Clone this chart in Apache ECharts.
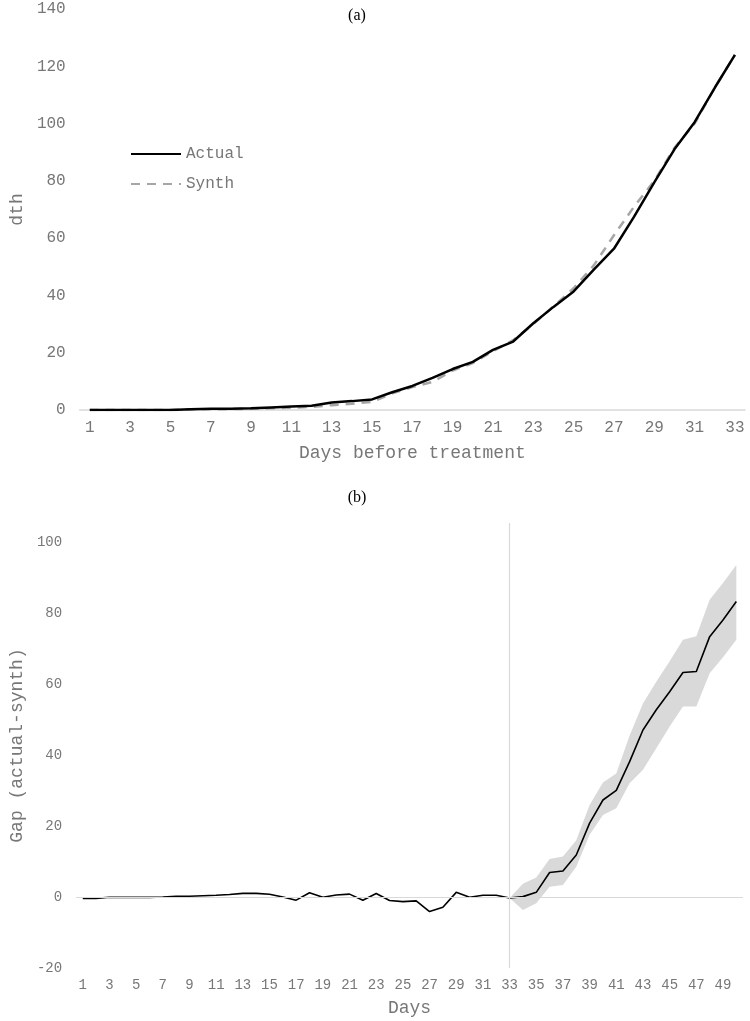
<!DOCTYPE html>
<html>
<head>
<meta charset="utf-8">
<script src="https://cdn.jsdelivr.net/npm/echarts@6/dist/echarts.min.js"></script>
<style>
  html, body { margin: 0; padding: 0; background: #fff; }
  #chart { width: 750px; height: 1021px; }
</style>
</head>
<body>
<div id="chart"></div>
<script>
  // (a) days before treatment
  const daysBefore = ["1","2","3","4","5","6","7","8","9","10","11","12","13","14","15","16","17",
    "18","19","20","21","22","23","24","25","26","27","28","29","30","31","32","33"];
  const actual = [0, 0, 0, 0, 0, 0.3, 0.4, 0.4, 0.6, 0.9, 1.2, 1.5, 2.6, 3.1, 3.7, 6.2, 8.4,
    11.2, 14.3, 16.8, 21, 23.9, 30.3, 36, 41.4, 49, 56.3, 67.5, 79.5, 91, 100.5, 112.5, 124];
  const synth = [0, 0, 0, 0, 0, 0.2, 0.3, 0.3, 0.4, 0.6, 0.8, 1.1, 1.7, 2.2, 2.8, 5.8, 8,
    9.8, 13.8, 16.4, 20.5, 24.4, 30, 36.2, 42.5, 50.5, 61, 71, 80, 91.5, 100, 112.5, 124];

  // (b) gap over all days
  const days = ["1","2","3","4","5","6","7","8","9","10","11","12","13","14","15","16","17",
    "18","19","20","21","22","23","24","25","26","27","28","29","30","31","32","33","34",
    "35","36","37","38","39","40","41","42","43","44","45","46","47","48","49","50"];
  const gap = [-0.4, -0.4, -0.1, -0.1, -0.1, -0.1, 0, 0.2, 0.2, 0.35, 0.5, 0.7, 1.0, 1.0, 0.75, 0, -0.9,
    1.2, -0.1, 0.55, 0.8, -0.9, 1.0, -1.0, -1.3, -1.1, -4.1, -2.9, 1.3, -0.1, 0.5, 0.5, -0.3, 0.1,
    1.3, 6.9, 7.3, 11.8, 20.8, 27.3, 30, 38.1, 47, 52.7, 57.8, 63.2, 63.5, 73.3, 78, 83.2];
  // confidence band, days 33..50
  const bandLower = [-0.3, -3.7, -1.8, 2.9, 3.4, 8.5, 17.5, 23.1, 25, 32, 35.8, 41.9, 48, 53.6, 53.6, 63, 67.5, 72.4];
  const bandUpper = [-0.3, 3.7, 5.5, 10.7, 11.4, 16, 25.9, 32.2, 34.8, 45.5, 54.5, 60.6, 66.4, 72.4, 73.4, 83.7, 88.4, 93.5];
  const treatmentDay = "33";

  const pad = new Array(32).fill("-");
  const lowerData = pad.concat(bandLower);
  const widthData = pad.concat(bandUpper.map((u, i) => +(u - bandLower[i]).toFixed(2)));

  const mono = "Liberation Mono";
  const grayText = "#777777";
  const lightLine = "#d9d9d9";

  const chart = echarts.init(document.getElementById("chart"));

  const option = {
    animation: false,
    backgroundColor: "#fff",
    title: [
      { text: "(a)", left: 352, top: 3, textAlign: "center",
        textStyle: { fontFamily: "Liberation Serif", fontSize: 16, fontWeight: "normal", color: "#000" } },
      { text: "(b)", left: 352, top: 485, textAlign: "center",
        textStyle: { fontFamily: "Liberation Serif", fontSize: 16, fontWeight: "normal", color: "#000" } }
    ],
    legend: {
      data: ["Actual", "Synth"],
      orient: "vertical",
      left: 130,
      top: 146,
      padding: 0,
      itemWidth: 50,
      itemHeight: 14,
      itemGap: 14,
      itemStyle: { opacity: 0 },
      textStyle: { fontFamily: mono, fontSize: 16, color: grayText }
    },
    grid: [
      { left: 71, right: 5, top: 9, bottom: 611 },
      // top extends a little above 100 so the treatment line overshoots like the original
      { left: 68, right: 7, top: 523, bottom: 53 }
    ],
    xAxis: [
      {
        gridIndex: 0, type: "category", data: daysBefore,
        name: "Days before treatment", nameLocation: "middle", nameGap: 34,
        nameTextStyle: { fontFamily: mono, fontSize: 18, color: grayText },
        axisLine: { lineStyle: { color: lightLine, width: 1.5 } },
        axisTick: { show: false },
        axisLabel: { interval: 1, margin: 10, fontFamily: mono, fontSize: 16, color: grayText }
      },
      {
        gridIndex: 1, type: "category", data: days,
        name: "Days", nameLocation: "middle", nameGap: 31,
        nameTextStyle: { fontFamily: mono, fontSize: 18, color: grayText },
        axisLine: { show: false, onZero: false },
        axisTick: { show: false },
        axisLabel: { interval: 1, margin: 10, fontFamily: mono, fontSize: 14, color: grayText }
      }
    ],
    yAxis: [
      {
        gridIndex: 0, type: "value", min: 0, max: 140, interval: 20,
        name: "dth", nameLocation: "middle", nameGap: 50,
        nameTextStyle: { fontFamily: mono, fontSize: 18, color: grayText },
        axisLine: { show: false }, axisTick: { show: false }, splitLine: { show: false },
        axisLabel: { margin: 14, fontFamily: mono, fontSize: 16, color: grayText }
      },
      {
        gridIndex: 1, type: "value", min: -20, max: 105.3, interval: 20,
        name: "Gap (actual-synth)", nameLocation: "middle", nameGap: 44,
        nameTextStyle: { fontFamily: mono, fontSize: 18, color: grayText },
        axisLine: { show: false }, axisTick: { show: false }, splitLine: { show: false },
        axisLabel: { margin: 14, showMaxLabel: false, fontFamily: mono, fontSize: 14, color: grayText }
      }
    ],
    series: [
      {
        name: "Synth", type: "line", xAxisIndex: 0, yAxisIndex: 0, data: synth,
        symbol: "none", z: 2,
        lineStyle: { color: "#a6a6a6", width: 2.5, type: [9, 7] },
        itemStyle: { color: "#a6a6a6" }
      },
      {
        name: "Actual", type: "line", xAxisIndex: 0, yAxisIndex: 0, data: actual,
        symbol: "none", z: 3,
        lineStyle: { color: "#000", width: 2.5 },
        itemStyle: { color: "#000" }
      },
      {
        name: "lower", type: "line", xAxisIndex: 1, yAxisIndex: 1, data: lowerData,
        stack: "band", stackStrategy: "all", symbol: "none", silent: true,
        lineStyle: { opacity: 0 }
      },
      {
        name: "band", type: "line", xAxisIndex: 1, yAxisIndex: 1, data: widthData,
        stack: "band", stackStrategy: "all", symbol: "none", silent: true,
        lineStyle: { opacity: 0 },
        areaStyle: { color: "#d9d9d9", opacity: 1 }
      },
      {
        name: "Gap", type: "line", xAxisIndex: 1, yAxisIndex: 1, data: gap,
        symbol: "none", z: 4,
        lineStyle: { color: "#000", width: 1.6 },
        markLine: {
          silent: true, symbol: "none", label: { show: false },
          lineStyle: { color: lightLine, width: 1.2, type: "solid" },
          data: [
            { yAxis: 0 },
            { xAxis: treatmentDay }
          ]
        }
      }
    ]
  };

  chart.setOption(option);
</script>
</body>
</html>
